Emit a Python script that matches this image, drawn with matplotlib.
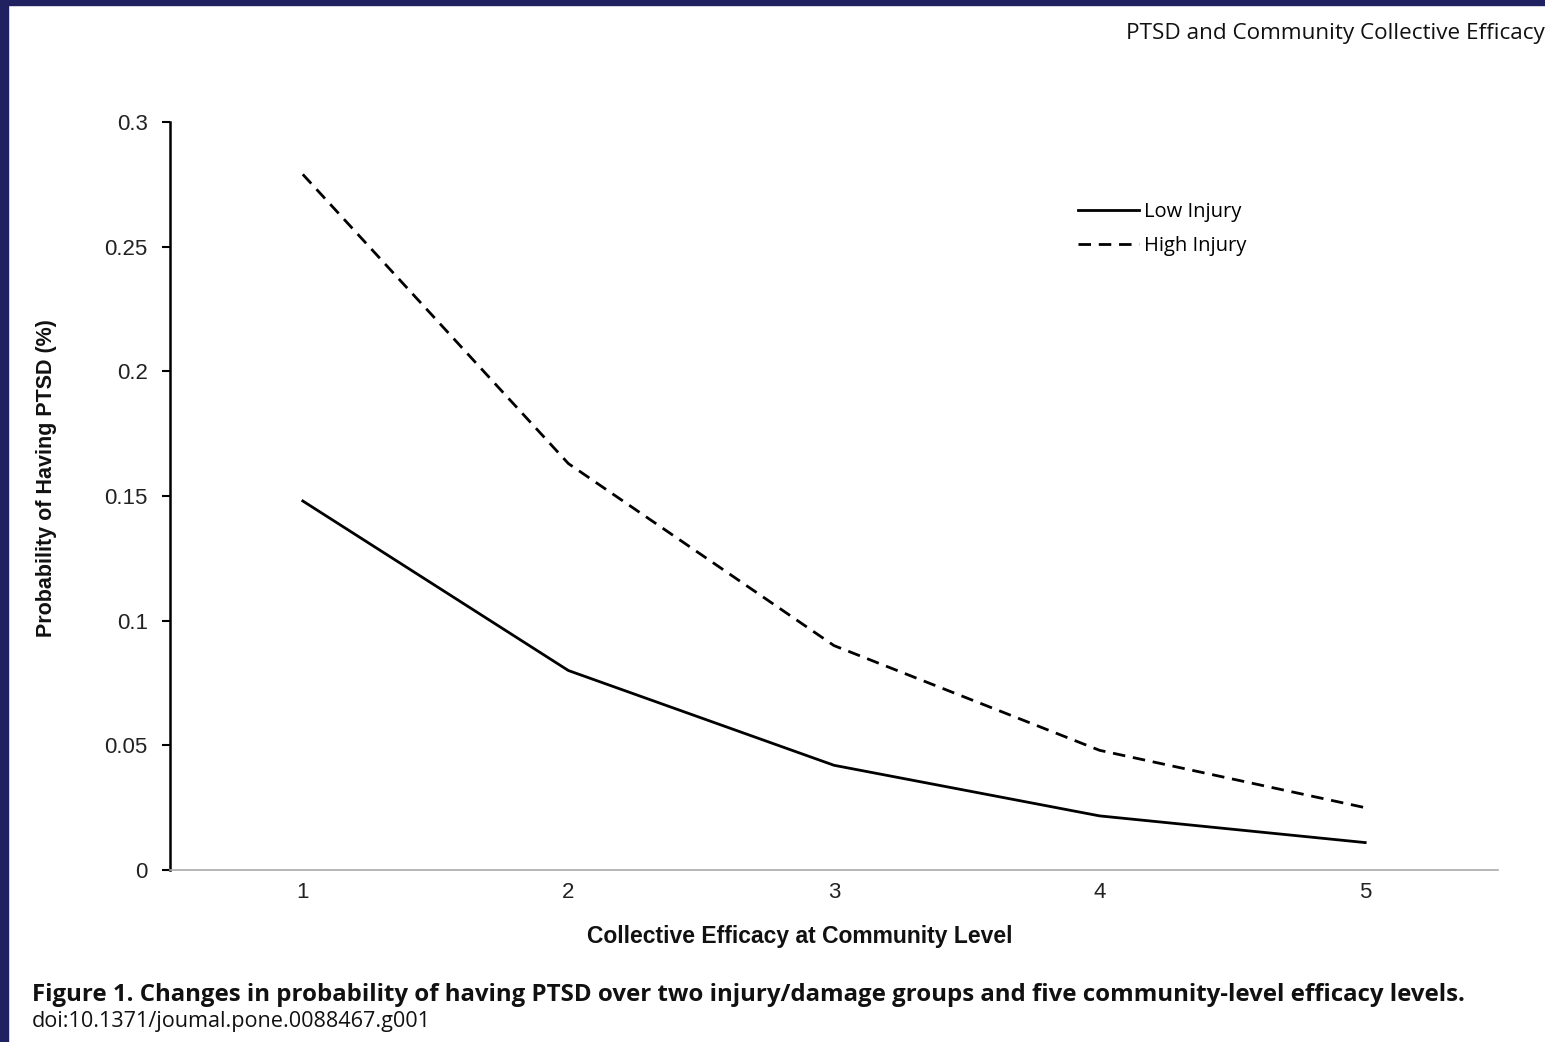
import matplotlib
matplotlib.use("Agg")
import matplotlib.pyplot as plt
from matplotlib.patches import Rectangle

efficacy_levels = [1, 2, 3, 4, 5]
low_injury = [0.148, 0.080, 0.042, 0.0217, 0.011]
high_injury = [0.279, 0.163, 0.090, 0.048, 0.025]
y_ticks = [0, 0.05, 0.1, 0.15, 0.2, 0.25, 0.3]
y_tick_labels = ["0", "0.05", "0.1", "0.15", "0.2", "0.25", "0.3"]

W, H = 1545, 1042
fig = plt.figure(figsize=(W / 100, H / 100), dpi=100)
fig.patch.set_facecolor("white")

navy = "#1f2160"
fig.patches.append(Rectangle((0, 1 - 5 / H), 1, 5 / H, transform=fig.transFigure, color=navy, zorder=0))
fig.patches.append(Rectangle((0, 0), 8 / W, 1, transform=fig.transFigure, color=navy, zorder=0))

ax = fig.add_axes([170 / W, 1 - 870 / H, (1498 - 170) / W, (870 - 122) / H])
ax.plot(efficacy_levels, low_injury, color="black", lw=2, label="Low Injury")
ax.plot(efficacy_levels, high_injury, color="black", lw=2, dashes=(4.5, 2.8), label="High Injury")

ax.set_xlim(0.5, 5.5)
ax.set_ylim(0, 0.3)
ax.set_yticks(y_ticks)
ax.set_yticklabels(y_tick_labels, fontsize=16, family="Liberation Sans", color="#222222")
ax.set_xticks(efficacy_levels)
ax.set_xticklabels([str(v) for v in efficacy_levels], fontsize=16, family="Liberation Sans", color="#222222")
ax.tick_params(axis="x", length=0, pad=8.5)
ax.tick_params(axis="y", length=6, width=1.5, direction="out", pad=10)
for s in ["top", "right"]:
    ax.spines[s].set_visible(False)
ax.spines["left"].set_linewidth(1.8)
ax.spines["bottom"].set_color("#aaaaaa")
ax.spines["bottom"].set_linewidth(1.2)

ax.set_xlabel("Collective Efficacy at Community Level", fontsize=16.5, fontweight="bold",
              family="Liberation Sans", color="#111111")
ax.xaxis.set_label_coords((800 - 170) / (1498 - 170), -(936 - 870) / 748)
ax.xaxis.label.set_va("center")
ax.set_ylabel("Probability of Having PTSD (%)", fontsize=15.5, fontweight="bold",
              family="Liberation Sans", color="#111111")
ax.yaxis.set_label_coords(-(170 - 47) / (1498 - 170), (870 - 478) / 748)
ax.yaxis.label.set_va("center")

leg = ax.legend(loc="upper left", bbox_to_anchor=((1060 - 170) / (1498 - 170), (870 - 184) / 748),
                frameon=False, handlelength=3.0, handletextpad=0.25,
                labelspacing=0.68, prop={"family": "Open Sans", "size": 14.5})

fig.text(1545 / W, 1 - 34 / H, "PTSD and Community Collective Efficacy", ha="right", va="center",
         fontsize=16.2, family="Open Sans", color="#111111")
fig.text(32 / W, 1 - 995 / H,
         "Figure 1. Changes in probability of having PTSD over two injury/damage groups and five community-level efficacy levels.",
         ha="left", va="center", fontsize=17.3, fontweight="bold", family="Open Sans", color="#111111")
fig.text(32 / W, 1 - 1021 / H, "doi:10.1371/joumal.pone.0088467.g001", ha="left", va="center",
         fontsize=15.6, family="Open Sans", color="#111111")

fig.savefig("out.png", dpi=100)
